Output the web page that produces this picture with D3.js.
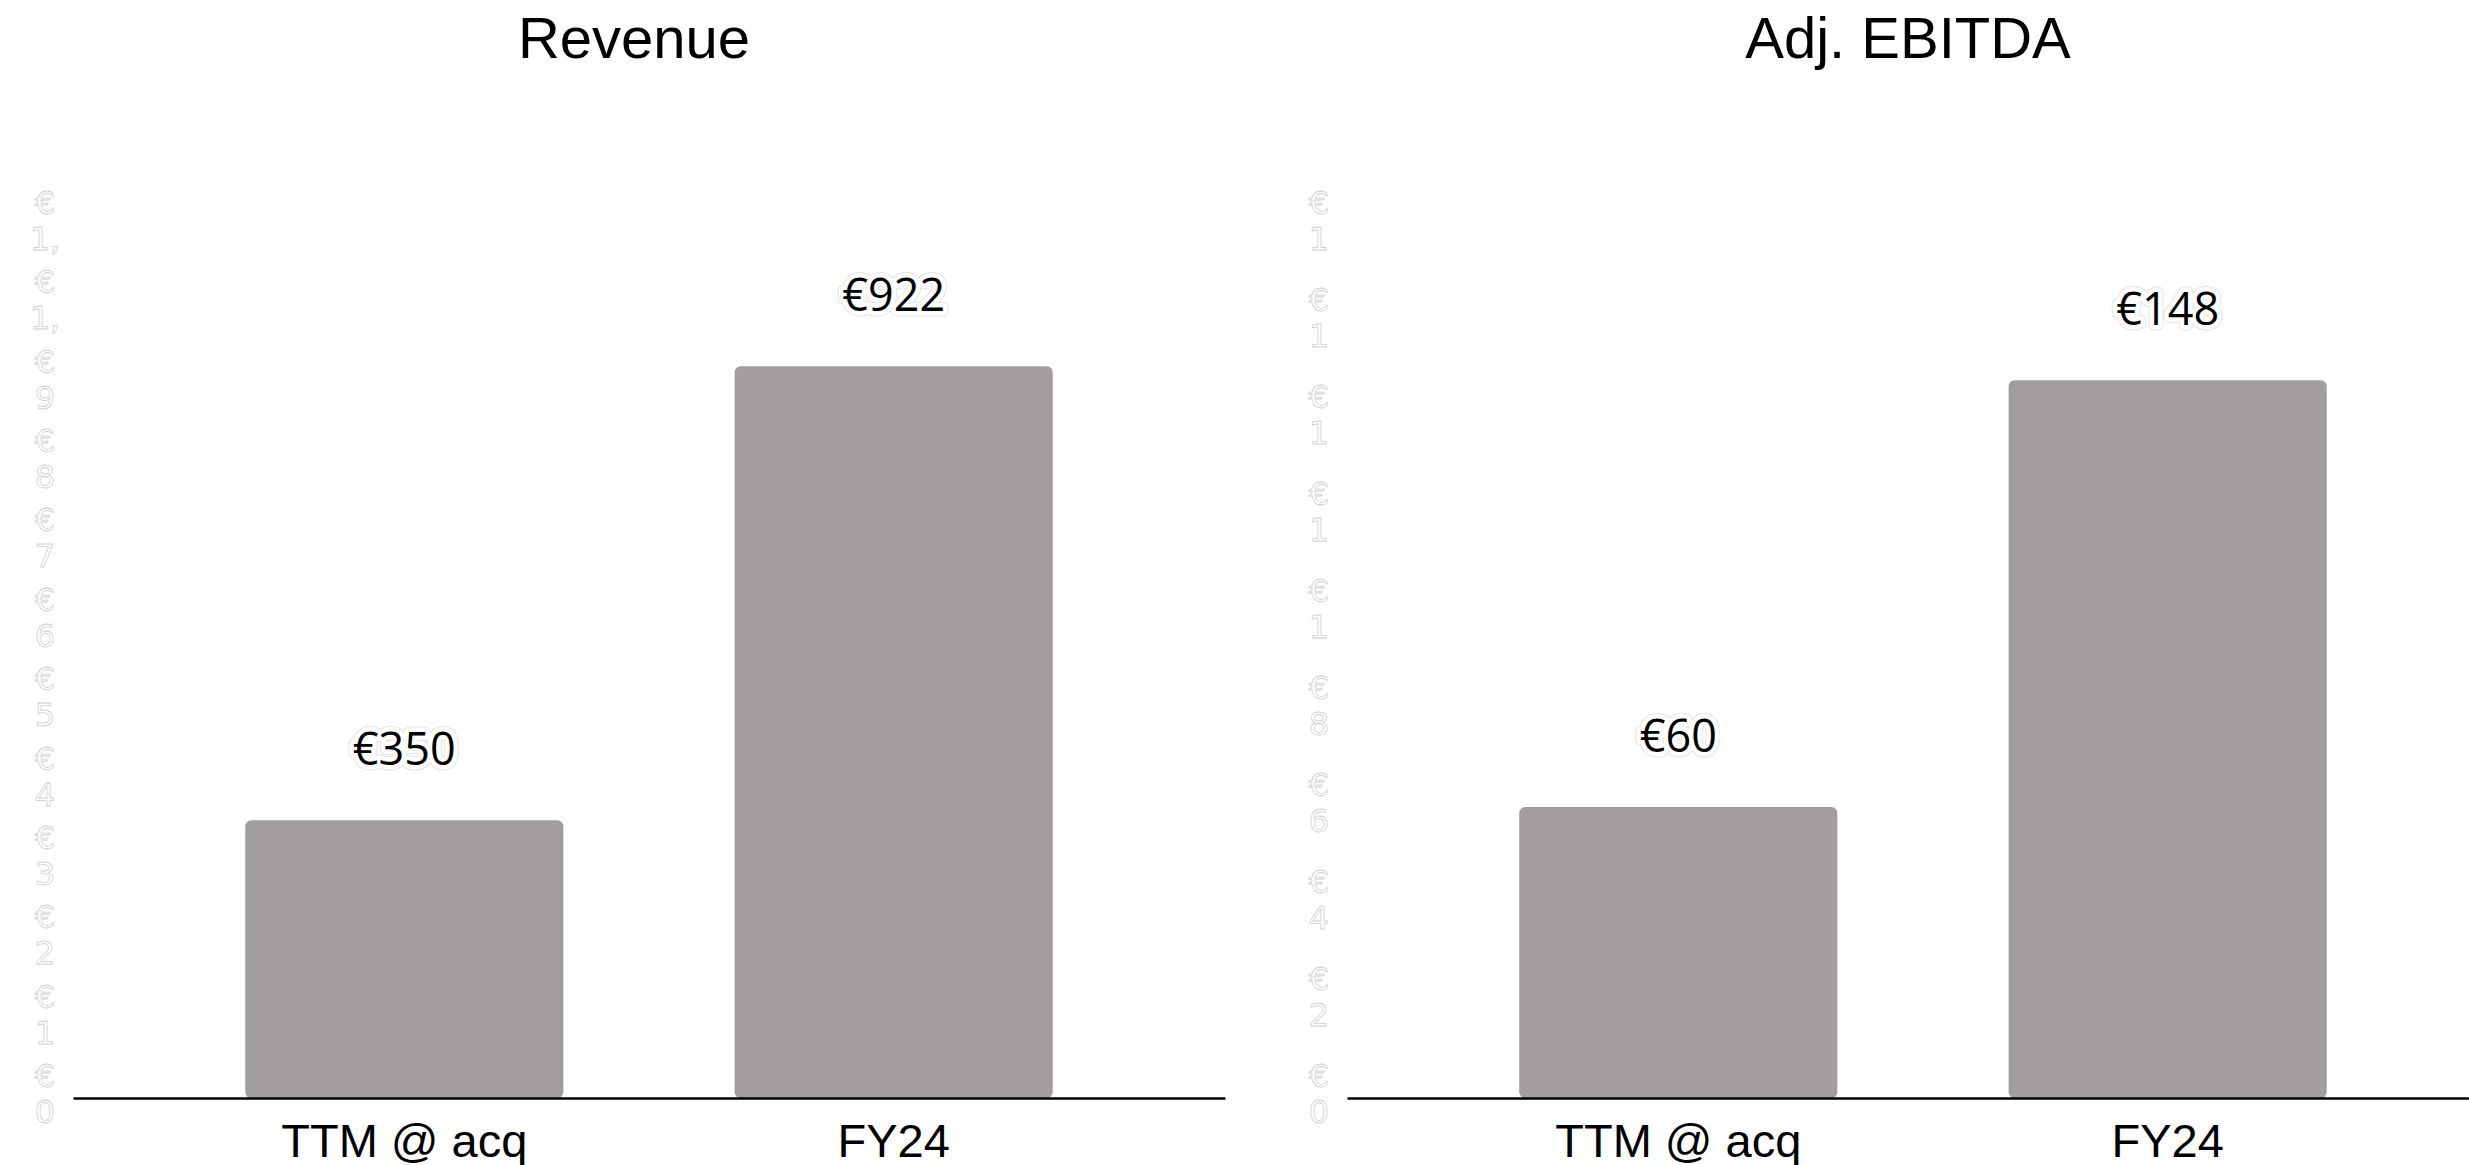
<!DOCTYPE html>
<html><head><meta charset="utf-8">
<script src="https://cdn.jsdelivr.net/npm/d3@7"></script>
<style>html,body{margin:0;padding:0;background:#fff;overflow:hidden}</style>
</head><body>
<script>
const categories = ["TTM @ acq", "FY24"];
const revenueValues = [350, 922];
const ebitdaValues = [60, 148];
const revenueTicks = [0,100,200,300,400,500,600,700,800,900,1000,1100];
const ebitdaTicks = [0,20,40,60,80,100,120,140,160,180];
const titles = ["Revenue", "Adj. EBITDA"];

const W = 2469, H = 1165;
const svg = d3.select("body").append("svg").attr("width", W).attr("height", H);

const panels = [
  {title: titles[0], values: revenueValues, ticks: revenueTicks, x0: 73},
  {title: titles[1], values: ebitdaValues, ticks: ebitdaTicks, x0: 1347}
];
const plotW = 1152, yBase = 1098, yTop = 225;
const fmt = v => "€" + d3.format(",")(v);

panels.forEach(p => {
  const g = svg.append("g");
  const x = d3.scaleBand().domain(categories).range([p.x0, p.x0 + plotW]).paddingInner(0.35).paddingOuter(0.352);
  const y = d3.scaleLinear().domain([0, d3.max(p.ticks)]).range([yBase, yTop]);

  // title
  g.append("text").attr("x", p.x0 + 561).attr("y", 58).attr("text-anchor", "middle")
    .attr("font-family", "Liberation Sans, Arial, sans-serif").attr("font-size", 58).attr("fill", "#000")
    .text(p.title);

  // y tick labels (wrapped, only two lines visible)
  const tl = g.append("g").selectAll("text").data(p.ticks).join("text")
    .attr("text-anchor", "middle")
    .attr("font-family", "DejaVu Sans, sans-serif").attr("font-size", 32)
    .attr("fill", "#ffffff").attr("stroke", "#d0d0d0").attr("stroke-width", 0.8);
  tl.each(function(d) {
    const s = fmt(d);
    let second = s.charAt(1);
    if (s.charAt(2) === ",") second += ",";
    const t = d3.select(this);
    t.append("tspan").attr("x", p.x0 - 28).attr("y", y(d) - 11).text(s.charAt(0));
    t.append("tspan").attr("x", p.x0 - 28).attr("y", y(d) + 25).text(second);
  });

  // bars
  g.append("g").selectAll("rect").data(p.values).join("rect")
    .attr("x", (d, i) => x(categories[i]))
    .attr("width", x.bandwidth())
    .attr("y", d => y(d))
    .attr("height", d => y(0) - y(d))
    .attr("rx", 6).attr("ry", 6)
    .attr("fill", "#a19e9d");

  // axis line
  const ax = g.append("g").attr("transform", `translate(0,${yBase})`)
    .call(d3.axisBottom(x).tickSize(0).tickPadding(0));
  ax.select(".domain").attr("stroke", "#000").attr("stroke-width", 2.5);
  ax.selectAll(".tick text").attr("font-family", "Liberation Sans, Arial, sans-serif")
    .attr("font-size", 47).attr("fill", "#000").attr("dy", null).attr("y", 59);

  // value labels with halo
  const lbl = g.append("g");
  const mk = (stroke, sw, fill) => lbl.append("g").selectAll("text").data(p.values).join("text")
    .attr("x", (d, i) => x(categories[i]) + x.bandwidth() / 2)
    .attr("y", d => y(d) - 55)
    .attr("text-anchor", "middle")
    .attr("font-family", "Open Sans, Noto Sans, sans-serif").attr("font-size", 45)
    .attr("fill", fill).attr("stroke", stroke).attr("stroke-width", sw).attr("stroke-linejoin", "round")
    .text(d => fmt(d));
  mk("#e4e4e4", 11, "#e4e4e4");
  mk("#ffffff", 9, "#ffffff");
  mk("none", 0, "#000");
});
</script>
</body></html>
